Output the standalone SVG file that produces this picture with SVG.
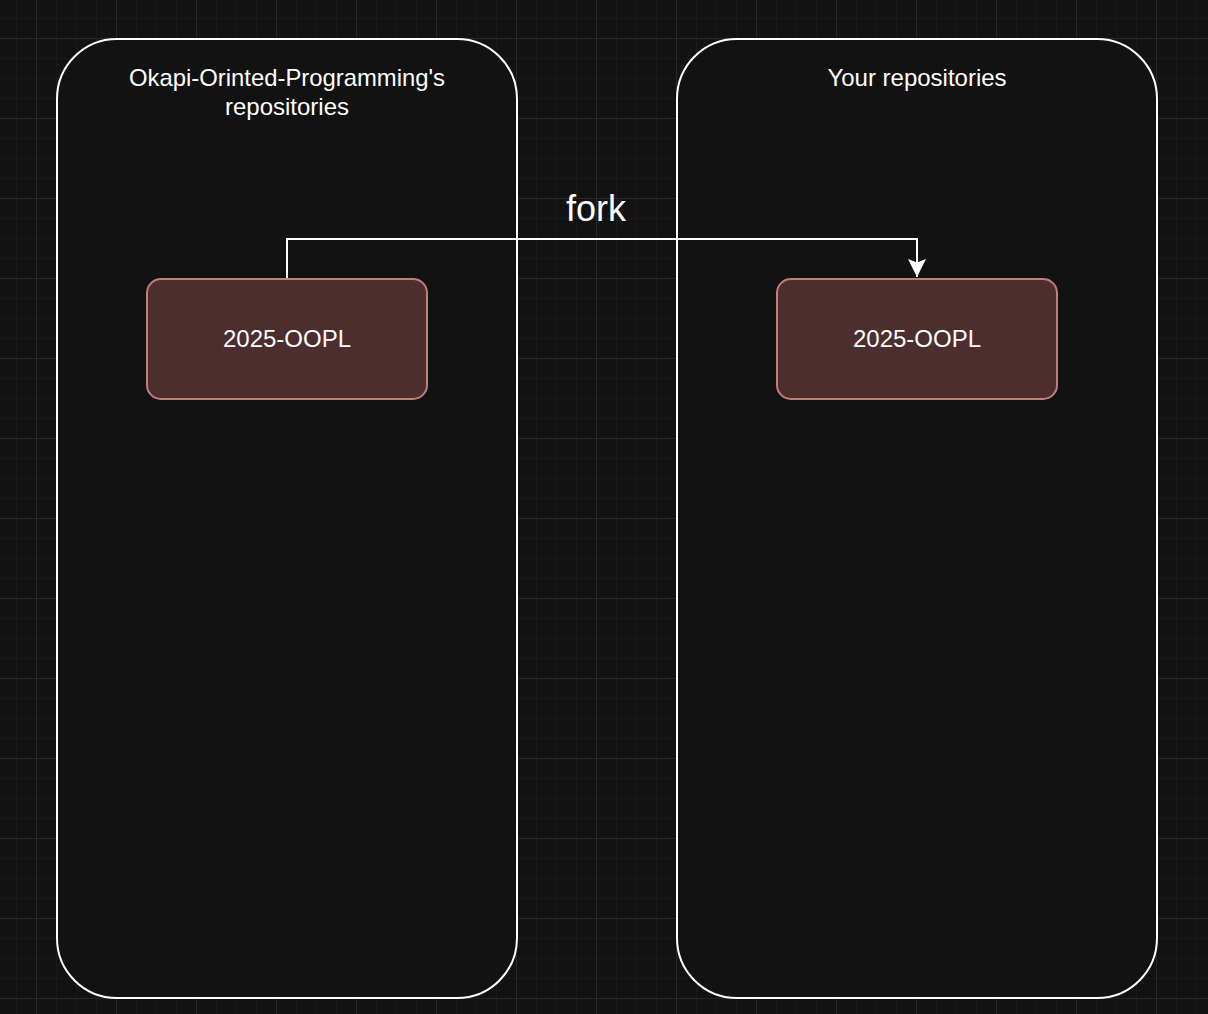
<svg xmlns="http://www.w3.org/2000/svg" width="1208" height="1014" viewBox="0 0 1208 1014">
  <defs>
    <pattern id="minor" x="16" y="18" width="20" height="20" patternUnits="userSpaceOnUse">
      <path d="M0 0 H20 M0 0 V20" fill="none" stroke="#1f1f1f" stroke-width="1"/>
    </pattern>
    <pattern id="major" x="36" y="38" width="80" height="80" patternUnits="userSpaceOnUse">
      <path d="M0 0 H80 M0 0 V80" fill="none" stroke="#383838" stroke-width="1"/>
    </pattern>
    <marker id="arrow" viewBox="0 0 20 20" refX="19" refY="10" markerWidth="20" markerHeight="20" markerUnits="userSpaceOnUse" orient="auto">
      <path d="M1 1 L19 10 L1 19 L4.5 10 Z" fill="#ffffff"/>
    </marker>
    <style>
      .container { fill: #121212; stroke: #ffffff; stroke-width: 2; }
      .repo { fill: #4c2e2e; stroke: #c0807a; stroke-width: 2; }
      .label { font-family: "Liberation Sans", Arial, sans-serif; fill: #ffffff; text-anchor: middle; font-size: 24px; }
      .edge { fill: none; stroke: #ffffff; stroke-width: 2; }
    </style>
  </defs>
  <rect width="1208" height="1014" fill="#121212"/>
  <rect width="1208" height="1014" fill="url(#minor)"/>
  <rect width="1208" height="1014" fill="url(#major)"/>

  <g id="container-okapi">
    <rect class="container" x="57" y="39" width="460" height="959" rx="60" ry="60"/>
    <text class="label" x="287" y="86" textLength="316" lengthAdjust="spacingAndGlyphs">Okapi-Orinted-Programming's</text>
    <text class="label" x="287" y="115">repositories</text>
  </g>
  <g id="container-yours">
    <rect class="container" x="677" y="39" width="480" height="959" rx="60" ry="60"/>
    <text class="label" x="917" y="86">Your repositories</text>
  </g>

  <g id="connectors">
    <path class="edge" d="M287 279 V239 H917 V277" marker-end="url(#arrow)"/>
    <text class="label" x="596" y="221" style="font-size:36px">fork</text>
  </g>

  <g id="repo-upstream">
    <rect class="repo" x="147" y="279" width="280" height="120" rx="14" ry="14"/>
    <text class="label" x="287" y="347">2025-OOPL</text>
  </g>
  <g id="repo-fork">
    <rect class="repo" x="777" y="279" width="280" height="120" rx="14" ry="14"/>
    <text class="label" x="917" y="347">2025-OOPL</text>
  </g>
</svg>
